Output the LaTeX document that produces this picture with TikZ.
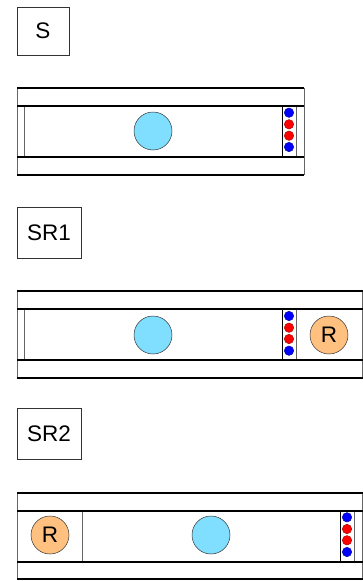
\documentclass[tikz,border=0pt]{standalone}
\usepackage{fontspec}
\setmainfont{Liberation Sans}
\definecolor{lblue}{HTML}{80DFFF}
\definecolor{peach}{HTML}{FFC080}
\begin{document}
\begin{tikzpicture}[x=1pt,y=-1pt,
  hline/.style={line width=1.3pt,black},
  vline/.style={line width=0.8pt,black!60},
  sepline/.style={line width=0.8pt,black},
  lbl/.style={draw=black!80,line width=0.6pt,inner sep=0pt,font=\fontsize{22.5}{22.5}\selectfont},
  ball/.style={circle,draw=black!80,line width=0.5pt,fill=lblue,minimum size=38pt,inner sep=0pt},
  rball/.style={circle,draw=black!80,line width=0.5pt,fill=peach,minimum size=38pt,inner sep=0pt,font=\fontsize{22.5}{22.5}\selectfont},
  dotb/.style={circle,draw=blue!60!black,line width=0.4pt,fill=blue,minimum size=9.5pt,inner sep=0pt},
  dotr/.style={circle,draw=red!60!black,line width=0.4pt,fill=red,minimum size=9.5pt,inner sep=0pt}]
\useasboundingbox (0,0) rectangle (363,581);
% ---------- Panel S ----------
\node[lbl,minimum width=52pt,minimum height=48pt] (lS) at (43,31) {S};
\draw[vline] (17,88) -- (17,175);
\draw[vline] (304,88) -- (304,175);
\draw[vline] (24,106) -- (24,157);
\draw[sepline] (282,106) -- (282,157);
\draw[vline] (296,106) -- (296,157);
\draw[hline] (17,88) -- (304,88);
\draw[hline] (17,106) -- (304,106);
\draw[hline] (17,157) -- (304,157);
\draw[hline] (17,175) -- (304,175);
\node[ball] (c1) at (153,131) {};
\node[dotb] (d11) at (289,112.7) {};
\node[dotr] (d12) at (289,124.3) {};
\node[dotr] (d13) at (289,135.7) {};
\node[dotb] (d14) at (289,147) {};
% ---------- Panel SR1 ----------
\node[lbl,minimum width=64pt,minimum height=51pt] (lSR1) at (49,232.5) {SR1};
\draw[vline] (17,291) -- (17,378);
\draw[vline] (362,291) -- (362,378);
\draw[vline] (24,309) -- (24,360);
\draw[sepline] (282,309) -- (282,360);
\draw[vline] (296,309) -- (296,360);
\draw[hline] (17,291) -- (363,291);
\draw[hline] (17,309) -- (363,309);
\draw[hline] (17,360) -- (363,360);
\draw[hline] (17,378) -- (363,378);
\node[ball] (c2) at (153,335) {};
\node[dotb] (d21) at (289,316) {};
\node[dotr] (d22) at (289,327.7) {};
\node[dotr] (d23) at (289,339) {};
\node[dotb] (d24) at (289,350.7) {};
\node[rball] (r2) at (329,335) {R};
% ---------- Panel SR2 ----------
\node[lbl,minimum width=64pt,minimum height=51pt] (lSR2) at (49,433.5) {SR2};
\draw[vline] (17,493) -- (17,579);
\draw[vline] (362,493) -- (362,579);
\draw[vline] (82,511) -- (82,562);
\draw[sepline] (340,511) -- (340,562);
\draw[vline] (354,511) -- (354,562);
\draw[hline] (17,493) -- (363,493);
\draw[hline] (17,511) -- (363,511);
\draw[hline] (17,562) -- (363,562);
\draw[hline] (17,579) -- (363,579);
\node[rball] (r3) at (50,535) {R};
\node[ball] (c3) at (211,535) {};
\node[dotb] (d31) at (347,517.3) {};
\node[dotr] (d32) at (347,529) {};
\node[dotr] (d33) at (347,540.3) {};
\node[dotb] (d34) at (347,552) {};
\end{tikzpicture}
\end{document}
